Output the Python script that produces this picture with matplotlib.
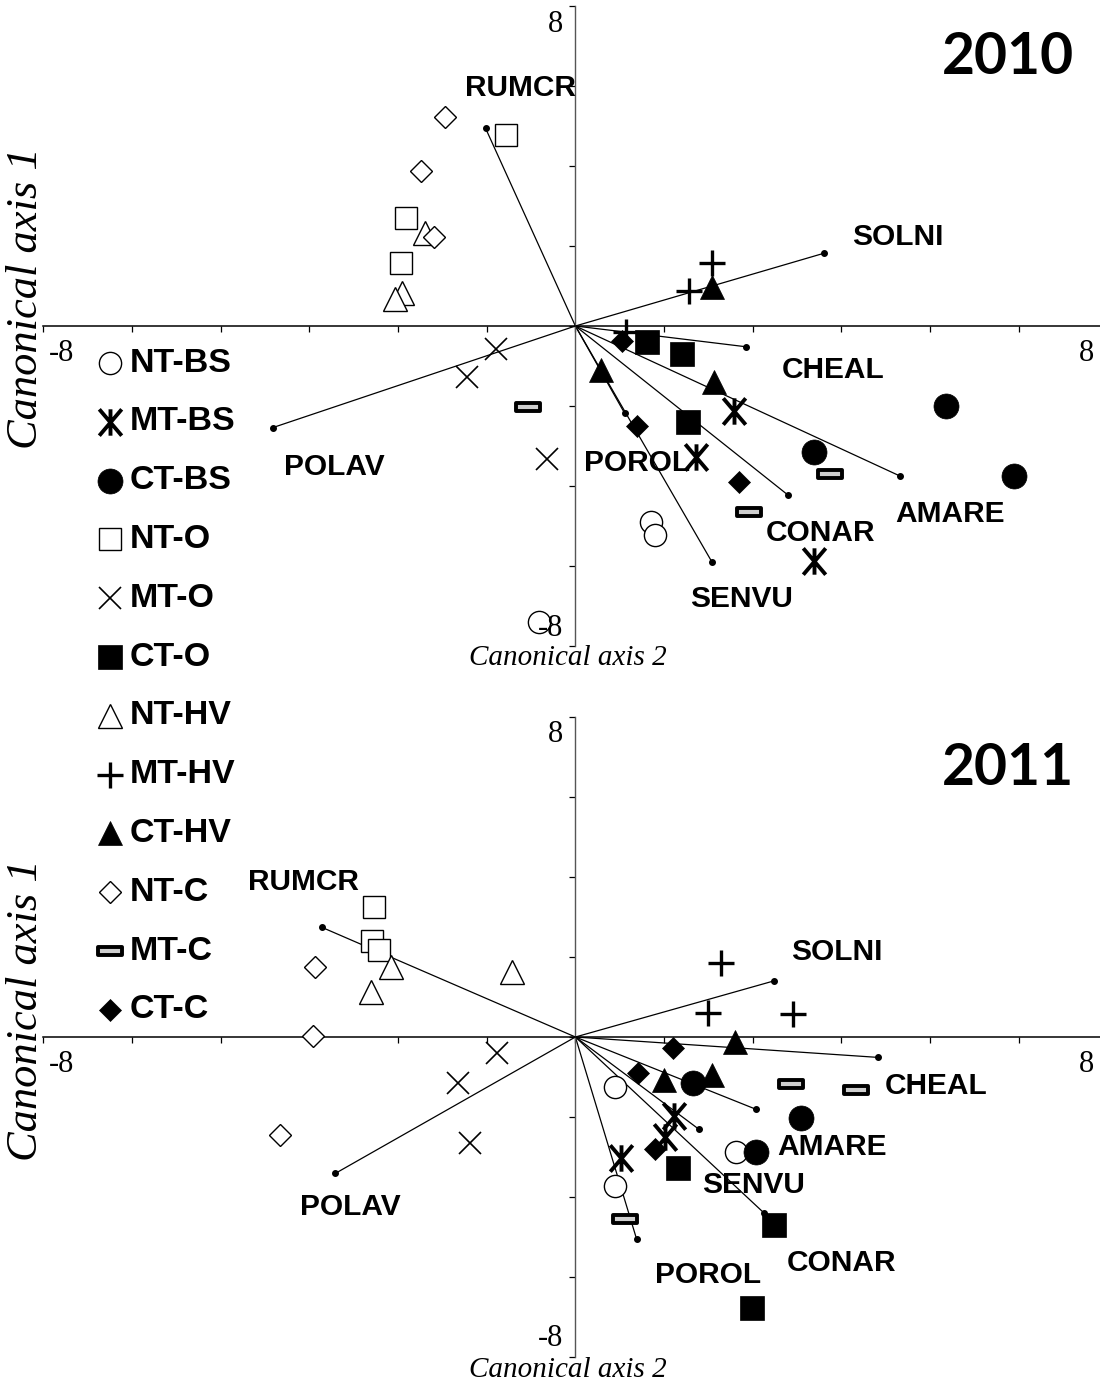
import numpy as np
import matplotlib.pyplot as plt
from matplotlib.path import Path

groups = ['NT-BS', 'MT-BS', 'CT-BS', 'NT-O', 'MT-O', 'CT-O',
          'NT-HV', 'MT-HV', 'CT-HV', 'NT-C', 'MT-C', 'CT-C']
species = ['RUMCR', 'SOLNI', 'CHEAL', 'AMARE', 'CONAR', 'SENVU', 'POROL', 'POLAV']

# sample scores, 2010 (canonical axis 2 -> x, canonical axis 1 -> y)
x_2010 = {
    'NT-BS': [1.14, 1.19, -0.55], 'MT-BS': [2.39, 1.81, 3.59], 'CT-BS': [5.58, 3.59, 6.60],
    'NT-O': [-1.04, -2.54, -2.63], 'MT-O': [-1.20, -1.63, -0.42], 'CT-O': [1.08, 1.61, 1.69],
    'NT-HV': [-2.26, -2.61, -2.71], 'MT-HV': [2.05, 1.71, 0.76], 'CT-HV': [2.06, 0.39, 2.08],
    'NT-C': [-1.96, -2.32, -2.12], 'MT-C': [-0.72, 3.83, 2.61], 'CT-C': [0.70, 0.92, 2.46],
}
y_2010 = {
    'NT-BS': [-4.89, -5.23, -7.41], 'MT-BS': [-2.12, -3.27, -5.87], 'CT-BS': [-1.99, -3.14, -3.75],
    'NT-O': [4.78, 2.69, 1.57], 'MT-O': [-0.58, -1.27, -3.32], 'CT-O': [-0.39, -0.70, -2.39],
    'NT-HV': [2.32, 0.82, 0.67], 'MT-HV': [1.57, 0.88, -0.14], 'CT-HV': [0.98, -1.10, -1.39],
    'NT-C': [5.22, 3.88, 2.22], 'MT-C': [-2.03, -3.71, -4.64], 'CT-C': [-0.37, -2.50, -3.89],
}

# sample scores, 2011
x_2011 = {
    'NT-BS': [0.59, 2.42, 0.59], 'MT-BS': [1.48, 1.34, 0.68], 'CT-BS': [1.77, 3.40, 2.71],
    'NT-O': [-3.03, -3.06, -2.95], 'MT-O': [-1.18, -1.77, -1.59], 'CT-O': [1.54, 2.99, 2.66],
    'NT-HV': [-2.77, -3.08, -0.95], 'MT-HV': [2.19, 2.00, 3.27], 'CT-HV': [2.40, 1.33, 2.05],
    'NT-C': [-3.92, -3.94, -4.44], 'MT-C': [3.24, 4.22, 0.74], 'CT-C': [1.47, 0.94, 1.20],
}
y_2011 = {
    'NT-BS': [-1.24, -2.87, -3.72], 'MT-BS': [-1.98, -2.49, -3.03], 'CT-BS': [-1.14, -2.03, -2.87],
    'NT-O': [3.26, 2.41, 2.18], 'MT-O': [-0.39, -1.14, -2.64], 'CT-O': [-3.27, -4.70, -6.78],
    'NT-HV': [1.76, 1.13, 1.63], 'MT-HV': [1.86, 0.61, 0.58], 'CT-HV': [-0.12, -1.08, -0.95],
    'NT-C': [1.76, 0.03, -2.45], 'MT-C': [-1.18, -1.33, -4.56], 'CT-C': [-0.28, -0.91, -2.81],
}

# species arrow tips
sp_x_2010 = [-1.35, 3.74, 2.57, 4.88, 3.20, 2.05, 0.74, -4.55]
sp_y_2010 = [4.94, 1.82, -0.52, -3.75, -4.23, -5.89, -2.18, -2.54]
sp_x_2011 = [-3.81, 2.98, 4.55, 2.72, 2.83, 1.86, 0.92, -3.61]
sp_y_2011 = [2.74, 1.40, -0.51, -1.81, -4.39, -2.31, -5.05, -3.41]

# where the species names sit
lab_2010 = [(-0.83, 5.95), (4.85, 2.22), (3.88, -1.10), (5.64, -4.70),
            (3.69, -5.18), (2.50, -6.83), (0.92, -3.43), (-3.62, -3.53)]
lab_2011 = [(-4.09, 3.88), (3.93, 2.13), (5.42, -1.23), (3.86, -2.74),
            (4.00, -5.66), (2.68, -3.70), (1.99, -5.95), (-3.39, -4.24)]

# custom markers: six-armed star and a flat bar
star = Path([(0, -1), (0, 1), (-0.85, -1), (0.85, 1), (0.85, -1), (-0.85, 1)],
            [Path.MOVETO, Path.LINETO] * 3)
bar = Path([(-1, -0.3), (1, -0.3), (1, 0.3), (-1, 0.3), (-1, -0.3)],
           [Path.MOVETO, Path.LINETO, Path.LINETO, Path.LINETO, Path.CLOSEPOLY])

styles = {
    'NT-BS': dict(marker='o', ms=16, mfc='white', mec='black', mew=1.0),
    'MT-BS': dict(marker=star, ms=19, mfc='none', mec='black', mew=2.8),
    'CT-BS': dict(marker='o', ms=18, mfc='black', mec='black', mew=0.5),
    'NT-O': dict(marker='s', ms=16, mfc='white', mec='black', mew=1.0),
    'MT-O': dict(marker='x', ms=16, mfc='none', mec='black', mew=1.2),
    'CT-O': dict(marker='s', ms=17, mfc='black', mec='black', mew=0.5),
    'NT-HV': dict(marker='^', ms=17, mfc='white', mec='black', mew=1.0),
    'MT-HV': dict(marker='+', ms=19, mfc='none', mec='black', mew=2.4),
    'CT-HV': dict(marker='^', ms=17, mfc='black', mec='black', mew=0.5),
    'NT-C': dict(marker='D', ms=11.5, mfc='white', mec='black', mew=1.0),
    'MT-C': dict(marker=bar, ms=17, mfc='#cfcfcf', mec='black', mew=2.8),
    'CT-C': dict(marker='D', ms=11.5, mfc='black', mec='black', mew=0.5),
}

serif = 'Liberation Serif'
sans = 'Liberation Sans'

fig = plt.figure(figsize=(11, 13.86), dpi=100)


def panel(rect, xs, ys, spx, spy, labpos, year):
    ax = fig.add_axes(rect)
    ax.set_xlim(-8, 8)
    ax.set_ylim(-8, 8)
    ax.patch.set_visible(False)
    for s in ['top', 'right']:
        ax.spines[s].set_visible(False)
    ax.spines['left'].set_position(('data', 0))
    ax.spines['bottom'].set_position(('data', 0))
    ax.spines['left'].set_color('#555555')
    ax.spines['left'].set_linewidth(1.0)
    ax.spines['bottom'].set_linewidth(1.1)
    ax.set_xticks(np.linspace(-8, 8, 13))
    ax.set_yticks(np.arange(-8, 9, 2))
    ax.tick_params(length=4, width=0.9, labelbottom=False, labelleft=False)

    # species arrows
    for i, name in enumerate(species):
        ax.plot([0, spx[i]], [0, spy[i]], color='black', lw=0.9, zorder=2)
        ax.plot(spx[i], spy[i], 'o', ms=4, color='black', zorder=2)
        ax.text(labpos[i][0], labpos[i][1], name, ha='center', va='center',
                fontsize=21.5, fontweight='bold', family=sans, zorder=4)

    # sample points
    for g in groups:
        ax.plot(xs[g], ys[g], ls='none', zorder=3, **styles[g])

    # axis end values
    tk = dict(family=serif, fontsize=22, va='center')
    ax.text(-0.18, 7.55, '8', ha='right', **tk)
    ax.text(-0.18, -7.55, '-8', ha='right', **tk)
    ax.text(-7.73, -0.68, '-8', ha='center', **tk)
    ax.text(7.68, -0.68, '8', ha='center', **tk)

    ax.text(7.5, 6.72, year, ha='right', va='center', fontsize=41,
            fontweight='bold', family='Lato')
    return ax


ax_left = 43.4 / 1100
ax_w = 1064 / 1100
ax_h = 640 / 1386
panel([ax_left, (1386 - 646) / 1386, ax_w, ax_h], x_2010, y_2010,
      sp_x_2010, sp_y_2010, lab_2010, '2010')
panel([ax_left, (1386 - 1357) / 1386, ax_w, ax_h], x_2011, y_2011,
      sp_x_2011, sp_y_2011, lab_2011, '2011')

# axis titles
for yc in [658, 1370]:
    fig.text(568 / 1100, 1 - yc / 1386, 'Canonical axis 2', ha='center', va='center',
             family=serif, style='italic', fontsize=21)
for yc in [298, 1010]:
    fig.text(26 / 1100, 1 - yc / 1386, 'Canonical axis 1', ha='center', va='center',
             rotation=90, family=serif, style='italic', fontsize=32)

# shared legend down the left side
leg = fig.add_axes([0, 0, 1, 1])
leg.set_xlim(0, 1100)
leg.set_ylim(1386, 0)
leg.axis('off')
leg.patch.set_visible(False)
for i, g in enumerate(groups):
    yr = 363 + i * 58.8
    leg.plot([110], [yr], ls='none', **styles[g])
    leg.text(130, yr, g, ha='left', va='center', fontsize=24.5,
             fontweight='bold', family=sans)

fig.savefig('out.png', dpi=100)
